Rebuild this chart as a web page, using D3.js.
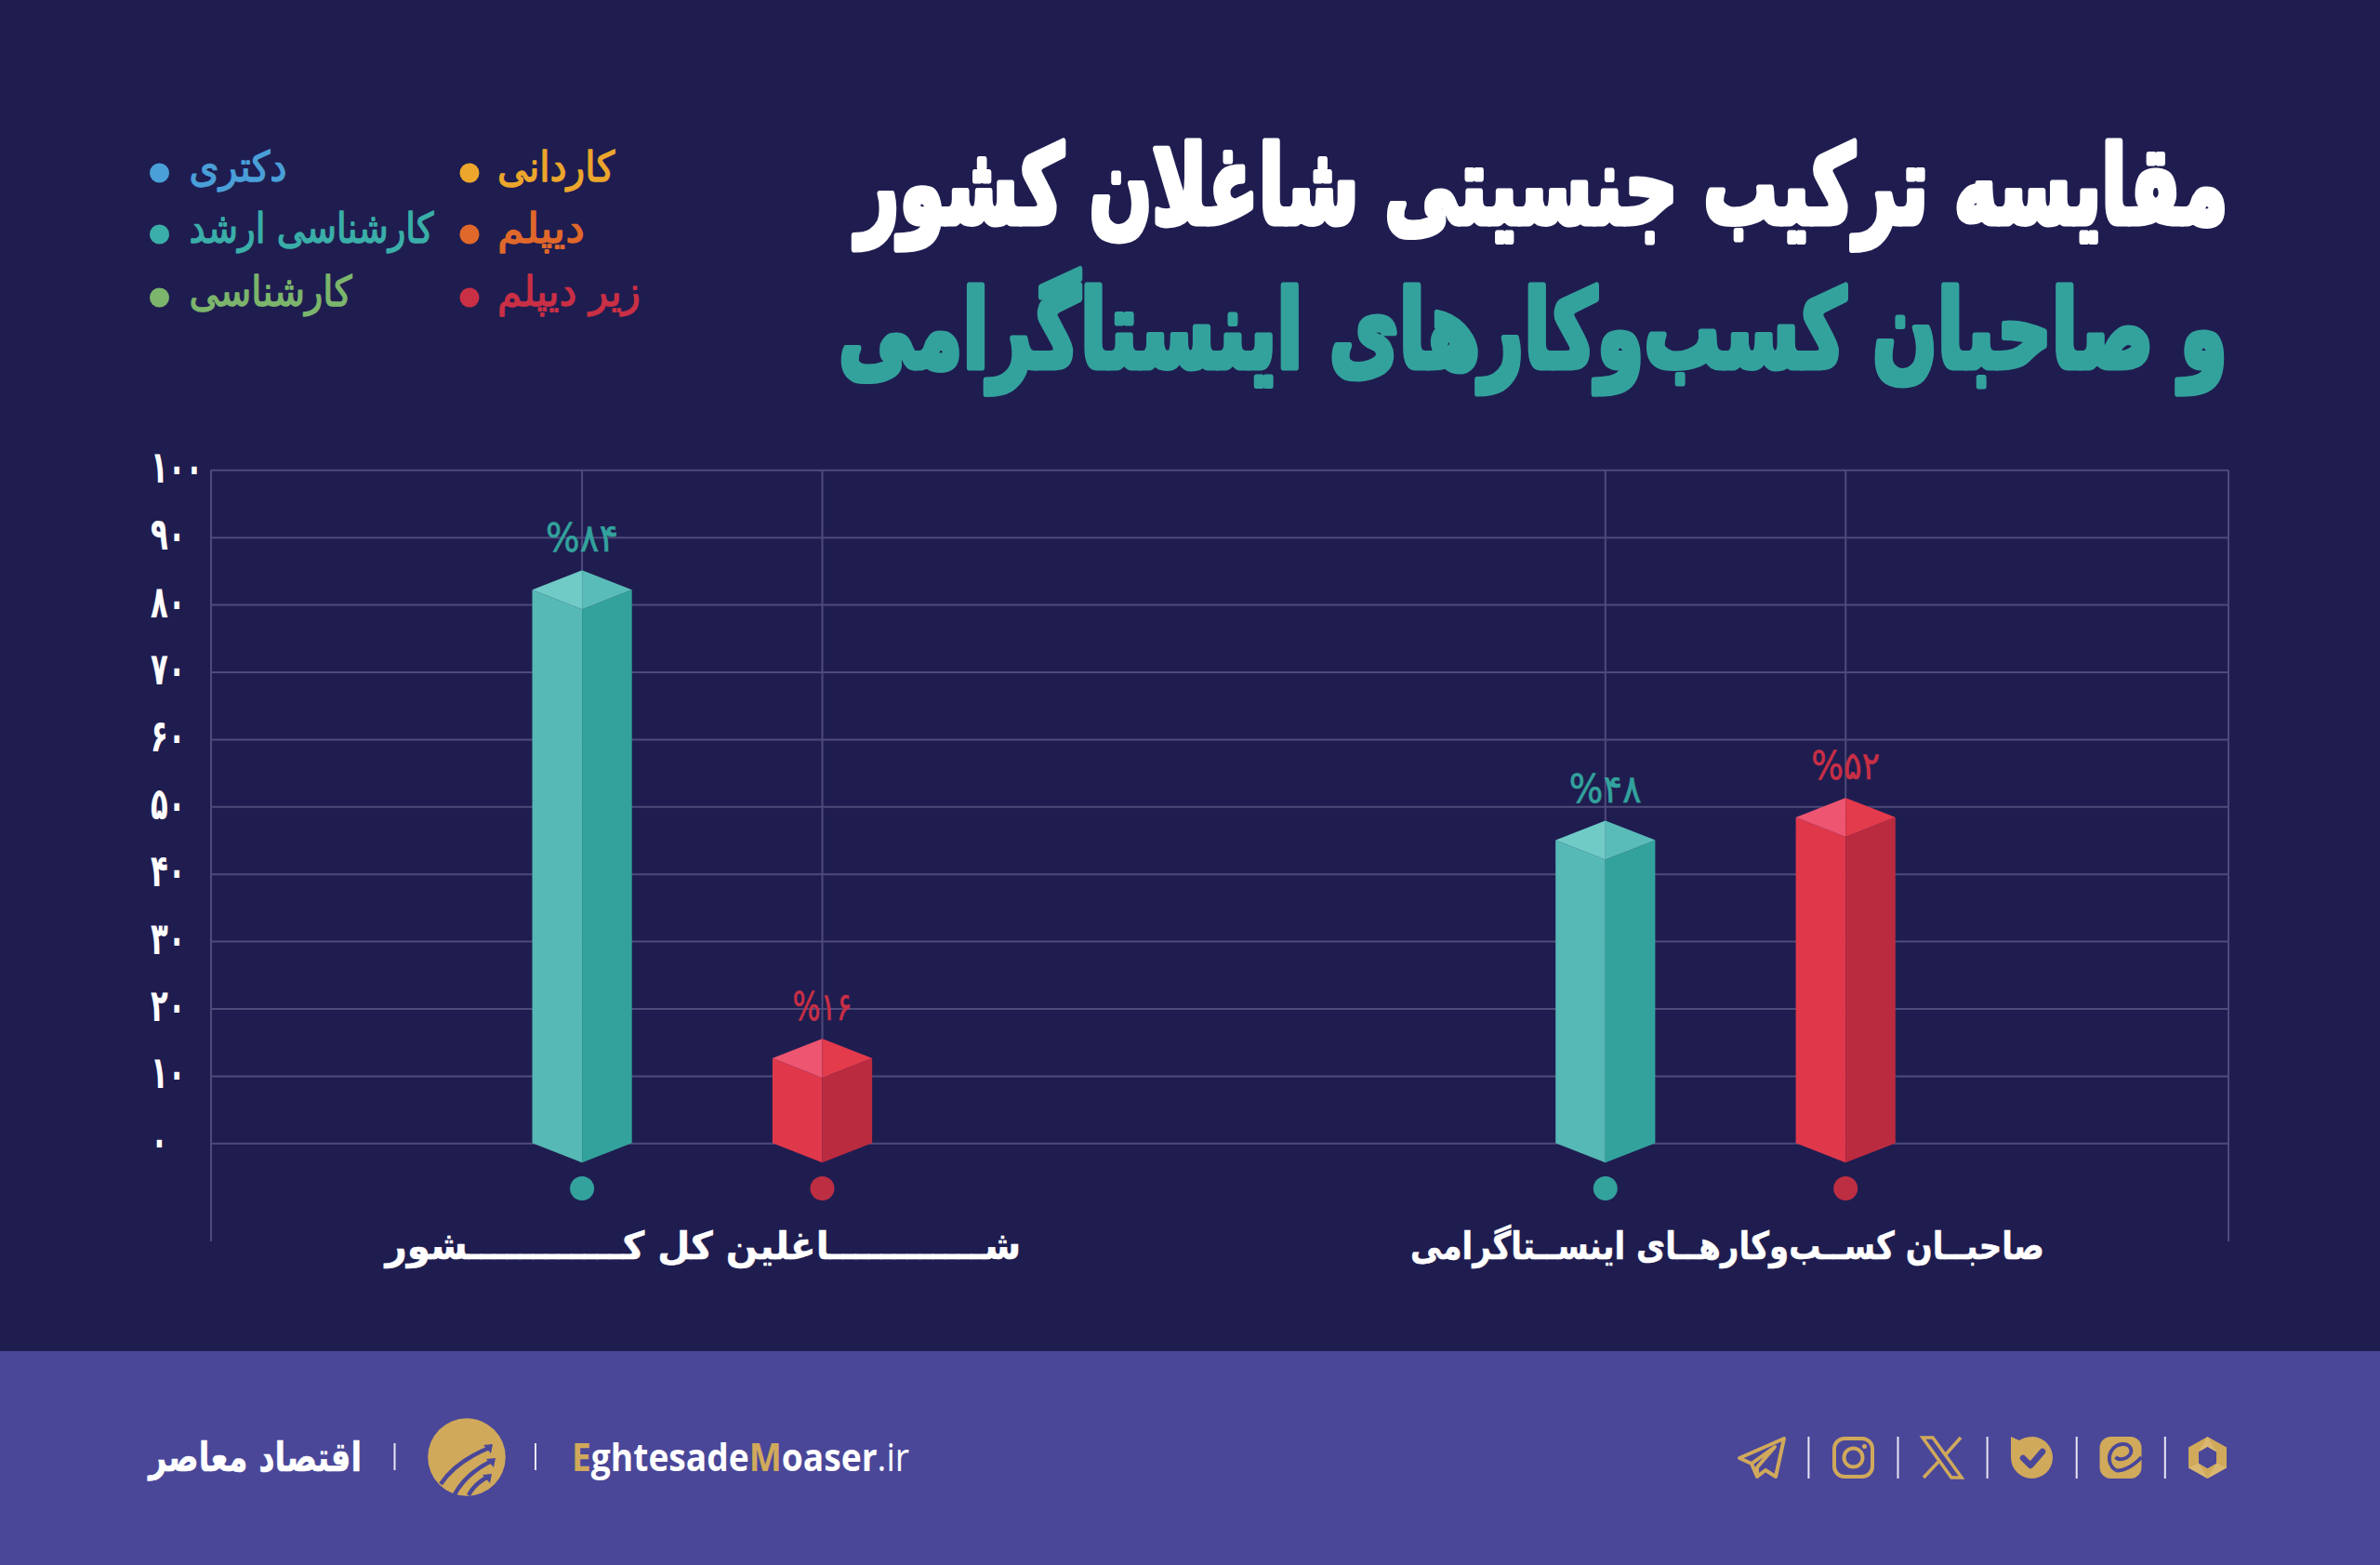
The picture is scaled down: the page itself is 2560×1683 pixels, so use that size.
<!doctype HTML>
<html>
	<head>
		<meta charset="utf-8">
		<script src="https://d3js.org/d3.v7.min.js"></script>
		<style>
			html, body { margin: 0; padding: 0; background: #1f1d50; }
			svg { display: block; }
			text { font-family: "DejaVu Sans", sans-serif; }
		</style>
	</head>
	<body>
		<div id="chart"></div>
		<script>
			//chart data
			var categories = ["صاحبــان کســب‌و‌کارهــای اینســتاگرامی", "شــــــــــــاغلین کل کــــــــــــشور"];
			var seriesKeys = ["teal", "red"];
			//printed percentages
			var tealValues = [48, 84];
			var redValues = [52, 16];
			//height of the top corner of each bar as read against the axis
			var tealTops = [47.9, 85.1];
			var redTops = [51.3, 15.5];
			var yTicks = [0, 10, 20, 30, 40, 50, 60, 70, 80, 90, 100];

			//legend
			var legendLeft = ["دکتری", "کارشناسی ارشد", "کارشناسی"];
			var legendRight = ["کاردانی", "دیپلم", "زیر دیپلم"];
			var legendLeftColors = ["#4a9fd8", "#3aaea8", "#7cb56c"];
			var legendRightColors = ["#eca62c", "#e0682a", "#c92f45"];
			var legendLeftWidths = [105, 263, 175];
			var legendRightWidths = [126, 94, 154];

			var titleLines = ["مقایسه ترکیب جنسیتی شاغلان کشور", "و صاحبان کسب‌و‌کارهای اینستاگرامی"];

			var faces = {
				teal: {left: "#56b9b5", right: "#33a29d", topLeft: "#70cbc7", topRight: "#5abcb8", text: "#33a29d", dot: "#33a29d"},
				red: {left: "#e0384b", right: "#ba2b40", topLeft: "#ee5570", topRight: "#e33a4c", text: "#c92f45", dot: "#bd2e42"}
			};

			var gold = "#d0a95b";
			var width = 2560, height = 1683;

			var svg = d3.select("#chart").append("svg")
				.attr("width", width)
				.attr("height", height)
				.attr("viewBox", "0 0 " + width + " " + height);

			svg.append("rect").attr("width", width).attr("height", height).attr("fill", "#1f1d50");
			svg.append("rect").attr("y", 1453).attr("width", width).attr("height", height - 1453).attr("fill", "#4a4799");

			function toFa(n) {
				return String(n).replace(/\d/g, function (d) { return "۰۱۲۳۴۵۶۷۸۹"[+d]; });
			}

			//text stretched or squeezed to the width it has in the picture
			function fitted(g, str, cx, baseline, size, w, fill, weight, stroke) {
				var holder = g.append("g");
				var t = holder.append("text")
					.attr("text-anchor", "middle")
					.attr("font-size", size)
					.attr("font-weight", weight)
					.attr("fill", fill)
					.attr("stroke", fill)
					.attr("stroke-width", stroke || 0)
					.attr("stroke-linejoin", "round")
					.text(str);
				var natural = t.node().getComputedTextLength();
				holder.attr("transform", "translate(" + cx + "," + baseline + ") scale(" + (w / natural) + ",1)");
				return t;
			}

			/*****title*/
			var title = svg.append("g");
			fitted(title, titleLines[0], 1659, 240, 116, 1475, "#ffffff", 700, 7);
			fitted(title, titleLines[1], 1649, 395, 116, 1494, "#33a29d", 700, 7);

			/*****legend*/
			var legend = svg.append("g");
			var legendY = [186, 252, 320];
			function drawLegend(names, colors, widths, dotX, textX) {
				names.forEach(function (name, i) {
					legend.append("circle").attr("cx", dotX).attr("cy", legendY[i]).attr("r", 10.5).attr("fill", colors[i]);
					fitted(legend, name, textX + widths[i] / 2, legendY[i] + 9, 45, widths[i], colors[i], 400, 1.4);
				});
			}
			drawLegend(legendLeft, legendLeftColors, legendLeftWidths, 171.5, 203.5);
			drawLegend(legendRight, legendRightColors, legendRightWidths, 505, 535);

			/*****scales*/
			var plotLeft = 227, plotRight = 2397, plotBottom = 1335;
			var y = d3.scaleLinear().domain([0, 100]).range([1229.3, 505.3]);
			var x0 = d3.scalePoint().domain(categories).range([1856, 755.3]);
			var x1 = d3.scalePoint().domain(seriesKeys).range([-129.2, 129.2]);
			var gridColor = "#4e4a7a";

			/*****axis + grid*/
			var yAxis = d3.axisLeft(y)
				.tickValues(yTicks)
				.tickFormat(toFa)
				.tickSize(-(plotRight - plotLeft));
			var axisG = svg.append("g")
				.attr("transform", "translate(" + plotLeft + ",0)")
				.call(yAxis);
			axisG.select(".domain").remove();
			axisG.selectAll(".tick line").attr("stroke", gridColor).attr("stroke-width", 2);
			axisG.selectAll(".tick text")
				.attr("x", 0)
				.attr("y", 0)
				.attr("dy", 13)
				.attr("transform", "translate(-65,0) scale(0.64,1)")
				.attr("text-anchor", "start")
				.attr("font-family", "DejaVu Sans")
				.attr("font-weight", 700)
				.attr("font-size", 48)
				.attr("letter-spacing", -3)
				.attr("fill", "#ffffff");

			[plotLeft, plotRight].forEach(function (edge) {
				svg.append("line")
					.attr("x1", edge).attr("x2", edge)
					.attr("y1", y(100)).attr("y2", plotBottom)
					.attr("stroke", gridColor).attr("stroke-width", 2);
			});

			/*****bars*/
			var labelWidths = {48: 78, 84: 78, 52: 74, 16: 64};
			var rows = [];
			categories.forEach(function (cat, i) {
				rows.push({cat: cat, key: "teal", value: tealValues[i], top: tealTops[i]});
				rows.push({cat: cat, key: "red", value: redValues[i], top: redTops[i]});
			});

			var halfW = 53.6, rise = 21;
			function poly(points) {
				return points.map(function (p) { return p.join(","); }).join(" ");
			}

			rows.forEach(function (d) {
				var cx = x0(d.cat) + x1(d.key);
				var top = y(d.top), base = y(0);
				var c = faces[d.key];

				svg.append("line")
					.attr("x1", cx).attr("x2", cx)
					.attr("y1", y(100)).attr("y2", top)
					.attr("stroke", gridColor).attr("stroke-width", 2);

				var bar = svg.append("g");
				bar.append("polygon").attr("fill", c.left)
					.attr("points", poly([[cx - halfW, top + rise], [cx, top + 2 * rise], [cx, base + rise], [cx - halfW, base]]));
				bar.append("polygon").attr("fill", c.right)
					.attr("points", poly([[cx + halfW, top + rise], [cx, top + 2 * rise], [cx, base + rise], [cx + halfW, base]]));
				bar.append("polygon").attr("fill", c.topLeft)
					.attr("points", poly([[cx, top], [cx - halfW, top + rise], [cx, top + 2 * rise]]));
				bar.append("polygon").attr("fill", c.topRight)
					.attr("points", poly([[cx, top], [cx + halfW, top + rise], [cx, top + 2 * rise]]));

				fitted(svg, "%" + toFa(d.value), cx, top - 20, 42, labelWidths[d.value], c.text, 400, 0.6);

				svg.append("circle")
					.attr("cx", cx).attr("cy", 1278).attr("r", 13)
					.attr("fill", c.dot);
			});

			/*****category labels*/
			var catWidths = [682, 684];
			categories.forEach(function (cat, i) {
				fitted(svg, cat, x0(cat) + (i == 0 ? 2 : 1), 1354, 41, catWidths[i], "#ffffff", 700, 0.5);
			});

			/*****footer left*/
			var footer = svg.append("g");
			fitted(footer, "اقتصاد معاصر", 274.5, 1582, 44, 229, "#ffffff", 700, 0.5);

			[424.5, 576, 1945.4, 2041.5, 2137.6, 2233.7, 2328.8].forEach(function (sx, i) {
				var isLogo = i < 2;
				footer.append("line")
					.attr("x1", sx).attr("x2", sx)
					.attr("y1", isLogo ? 1552 : 1545).attr("y2", isLogo ? 1581 : 1590)
					.attr("stroke", "#e8e6f5").attr("stroke-width", 2);
			});

			//round logo with three arrows
			footer.append("circle").attr("cx", 502).attr("cy", 1567).attr("r", 41.8).attr("fill", gold);
			var logoPaths = ["M474,1596 Q490,1572 526,1557", "M489,1607 Q502,1584 529,1571", "M504,1608 Q510,1596 525,1588"];
			logoPaths.forEach(function (p) {
				footer.append("path").attr("d", p).attr("fill", "none").attr("stroke", "#4a4799").attr("stroke-width", 4.5);
			});
			[[530, 1553], [533, 1568], [529, 1585]].forEach(function (p) {
				footer.append("path")
					.attr("d", "M" + (p[0] - 10) + "," + (p[1] + 1) + " L" + p[0] + "," + p[1] + " L" + (p[0] - 2) + "," + (p[1] + 10) + " Z")
					.attr("fill", "#4a4799");
			});

			var siteHolder = footer.append("g");
			var site = siteHolder.append("text")
				.attr("font-size", 42)
				.attr("font-family", "Open Sans")
				.attr("font-weight", 700)
				.attr("fill", "#ffffff");
			[["E", gold, 700], ["ghtesade", "#ffffff", 700], ["M", gold, 700], ["oaser", "#ffffff", 700], [".ir", "#ffffff", 400]].forEach(function (s) {
				site.append("tspan").attr("fill", s[1]).attr("font-weight", s[2]).attr("font-family", "Open Sans").text(s[0]);
			});
			siteHolder.attr("transform", "translate(615,1582) scale(" + (363 / site.node().getComputedTextLength()) + ",1)");

			/*****footer icons, drawn in a 45px box*/
			function icon(x, yy) {
				return footer.append("g").attr("transform", "translate(" + x + "," + yy + ")");
			}
			//telegram
			var tg = icon(1869, 1545);
			tg.append("path")
				.attr("d", "M50,2 L2,23 L15,29 L21,43 L30,36 L41,43 Z M15,29 L40,11 L21,33 L21,43")
				.attr("fill", "none").attr("stroke", gold).attr("stroke-width", 4).attr("stroke-linejoin", "round");
			//instagram
			var ig = icon(1971, 1545);
			ig.append("rect").attr("x", 2).attr("y", 2).attr("width", 41).attr("height", 41).attr("rx", 11)
				.attr("fill", "none").attr("stroke", gold).attr("stroke-width", 4);
			ig.append("circle").attr("cx", 22.5).attr("cy", 22.5).attr("r", 10)
				.attr("fill", "none").attr("stroke", gold).attr("stroke-width", 4);
			ig.append("circle").attr("cx", 34.5).attr("cy", 10.5).attr("r", 2.5).attr("fill", gold);
			//x
			var xIcon = icon(2067, 1545);
			xIcon.append("path")
				.attr("d", "M1,1 L12,1 L43,44 L32,44 Z")
				.attr("fill", "none").attr("stroke", gold).attr("stroke-width", 3.5);
			xIcon.append("path")
				.attr("d", "M42,1 L26,19 M18,27 L2,44")
				.attr("fill", "none").attr("stroke", gold).attr("stroke-width", 3.5);
			//check badge
			var badge = icon(2163, 1545);
			badge.append("path")
				.attr("d", "M0,0 L9,4 Q15,0 24,0 A22.5,22.5 0 1 1 0,23 Z")
				.attr("fill", gold);
			badge.append("path")
				.attr("d", "M13,23 L21,31 L34,16")
				.attr("fill", "none").attr("stroke", "#4a4799").attr("stroke-width", 6.5).attr("stroke-linecap", "round").attr("stroke-linejoin", "round");
			//e app
			var eApp = icon(2258.5, 1545);
			eApp.append("rect").attr("width", 45).attr("height", 45).attr("rx", 12).attr("fill", gold);
			eApp.append("path")
				.attr("d", "M17,36 C6,28 9,10 24,8 C34,7 38,18 28,23 C23,25 19,24 17,22 M17,36 C24,38 36,32 45,22")
				.attr("fill", "none").attr("stroke", "#4a4799").attr("stroke-width", 4);
			//hexagon
			var hexIcon = icon(2354, 1545);
			hexIcon.append("path")
				.attr("d", "M20.5,0 L41,11.5 L41,33.5 L20.5,45 L0,33.5 L0,11.5 Z M20.5,11 L11,16.5 L11,28.5 L20.5,34 L30,28.5 L30,16.5 Z")
				.attr("fill", gold).attr("fill-rule", "evenodd");
			hexIcon.append("path")
				.attr("d", "M20.5,0 L30,16.5 L11,16.5 Z M0,33.5 L11,28.5 L20.5,45 Z M41,33.5 L30,28.5 L20.5,45 Z")
				.attr("fill", "#e2c383").attr("opacity", 0.55);
			hexIcon.append("path")
				.attr("d", "M20.5,11 L11,16.5 L11,28.5 L20.5,34 L30,28.5 L30,16.5 Z")
				.attr("fill", "#4a4799");
		</script>
	</body>
</html>
